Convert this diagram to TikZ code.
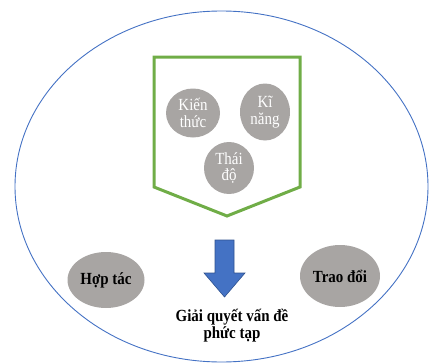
\documentclass[tikz,border=0pt]{standalone}
\usepackage{fontspec}
\setmainfont{Liberation Serif}
\newfontfamily\condserif[FakeStretch=0.88]{Liberation Serif}
\usetikzlibrary{shapes.geometric}
\definecolor{ringblue}{RGB}{68,114,196}
\definecolor{boxgreen}{RGB}{112,173,71}
\definecolor{bubble}{RGB}{168,165,163}
\definecolor{arrowblue}{RGB}{68,114,196}
\definecolor{arrowedge}{RGB}{47,82,143}
\tikzset{
  bubblew/.style={ellipse, fill=bubble, inner sep=0pt, text=white, align=center,
    font=\condserif\fontsize{17}{16.5}\selectfont},
  bubbleb/.style={ellipse, fill=bubble, inner sep=0pt, text=black, align=center,
    font=\condserif\fontsize{17}{17}\selectfont\bfseries},
  caption/.style={align=center, font=\condserif\fontsize{17}{17}\selectfont\bfseries}
}
\begin{document}
\begin{tikzpicture}[x=1pt,y=-1pt]
\useasboundingbox (0,0) rectangle (429,364);
\draw[ringblue, line width=0.9pt] (221.5,186.5) ellipse [x radius=206.5, y radius=175.5];
\draw[boxgreen, line width=3pt] (154,57) -- (300,57) -- (300,187) -- (227,216) -- (154,187) -- cycle;
\node[bubblew, minimum width=54pt, minimum height=49pt] (kt) at (193,113) {Kiến\\thức};
\node[bubblew, minimum width=50pt, minimum height=57pt] (kn) at (265,112) {Kĩ\\năng};
\node[bubblew, minimum width=50pt, minimum height=52pt] (td) at (229,168) {Thái\\độ};
\node[bubbleb, minimum width=77pt, minimum height=56pt] (ht) at (106,280) {Hợp tác};
\node[bubbleb, minimum width=80pt, minimum height=62pt] (to) at (340,276) {Trao đổi};
\draw[arrowedge, fill=arrowblue, line width=0.6pt] (215,240) -- (234,240) -- (234,273) -- (245,273) -- (224.5,297) -- (204,273) -- (215,273) -- cycle;
\node[caption] (gq) at (232,326) {Giải quyết vấn đề\\phức tạp};
\end{tikzpicture}
\end{document}
